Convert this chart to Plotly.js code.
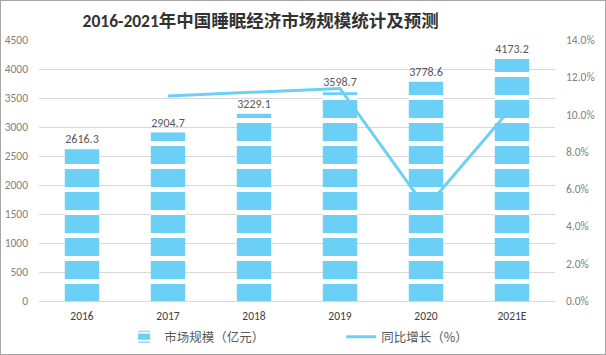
<!DOCTYPE html>
<html>
<head>
<meta charset="utf-8">
<script src="https://cdn.plot.ly/plotly-3.0.1.min.js"></script>
<style>
html,body{margin:0;padding:0;background:#fff;}
#wrap{width:606px;height:355px;box-sizing:border-box;border:1px solid #a6a6a6;}
#chart{width:604px;height:353px;}
</style>
</head>
<body>
<div id="wrap"><div id="chart"></div></div>
<script>
const years = ['2016', '2017', '2018', '2019', '2020', '2021E'];
const marketSize = [2616.3, 2904.7, 3229.1, 3598.7, 3778.6, 4173.2];
const growthYears = ['2017', '2018', '2019', '2020', '2021E'];
const growth = [0.110, 0.112, 0.114, 0.050, 0.104];
const sizeLabels = marketSize.map(v => v.toFixed(1));

const blue = '#6cd0f6';
const font = 'Calibri, Carlito, "Noto Sans CJK SC", "Noto Sans", sans-serif';

const traces = [
  {
    type: 'bar', x: years, y: marketSize, name: '市场规模（亿元）',
    text: sizeLabels, textposition: 'outside', cliponaxis: false,
    textfont: {size: 12, color: '#595959', family: font},
    marker: {color: blue, line: {width: 0},
      pattern: {shape: '-', bgcolor: blue, fgcolor: '#ffffff', fgopacity: 1, size: 23, solidity: 0.22, fillmode: 'replace'}},
    hoverinfo: 'skip'
  },
  {
    type: 'scatter', mode: 'lines', x: growthYears, y: growth, yaxis: 'y2',
    name: '同比增长（%）', line: {color: blue, width: 3}, hoverinfo: 'skip'
  }
];

const layout = {
  width: 604, height: 353,
  margin: {l: 38, r: 50, t: 39, b: 53},
  paper_bgcolor: '#ffffff', plot_bgcolor: '#ffffff',
  font: {family: font, color: '#595959', size: 11},
  title: {text: '<b>2016-2021年中国睡眠经济市场规模统计及预测</b>', x: 0.43, xanchor: 'center', y: 0.945, yanchor: 'middle',
    font: {size: 17.5, color: '#333333', family: 'Calibri, Carlito, "Noto Sans CJK SC", sans-serif'}},
  bargap: 0.6,
  showlegend: true,
  legend: {orientation: 'h', x: 0.165, xanchor: 'left', yref: 'container', y: 0.048, yanchor: 'middle',
    font: {size: 12.5, color: '#595959', family: '"Noto Sans CJK SC", sans-serif'}, entrywidth: 172, entrywidthmode: 'pixels', traceorder: 'normal'},
  xaxis: {type: 'category', showgrid: false, showline: false, zeroline: false, ticks: '', ticklabelstandoff: 6,
    tickfont: {size: 11.5, color: '#404040'}},
  yaxis: {range: [0, 4500], dtick: 500, tick0: 0, showgrid: true, gridcolor: '#d9d9d9', gridwidth: 1,
    zeroline: true, zerolinecolor: '#d9d9d9', showline: false, ticks: '', ticklabelstandoff: 10,
    tickfont: {size: 11.5, color: '#7f7f7f'}},
  yaxis2: {range: [0, 0.14], dtick: 0.02, tick0: 0, tickformat: '.1%', overlaying: 'y', side: 'right',
    showgrid: false, zeroline: false, showline: false, ticks: '', ticklabelstandoff: 10,
    tickfont: {size: 11.5, color: '#7f7f7f'}}
};

Plotly.newPlot('chart', traces, layout, {displayModeBar: false, staticPlot: true});
</script>
</body>
</html>
